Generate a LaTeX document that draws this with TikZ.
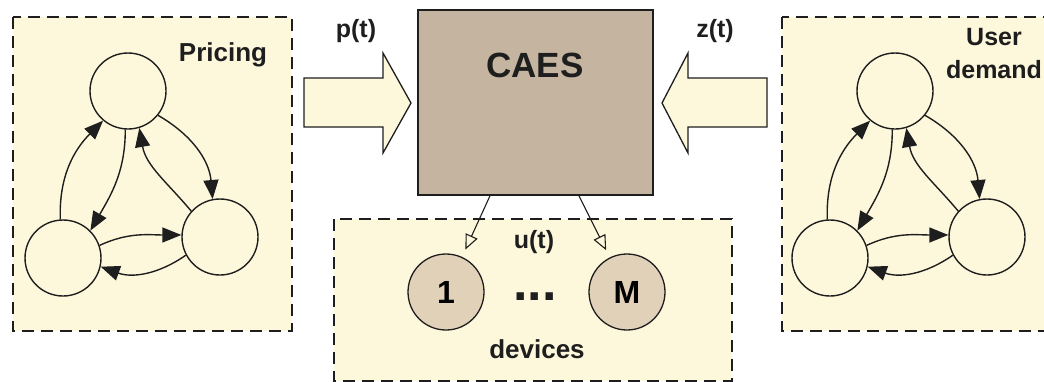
\documentclass[tikz,border=0pt]{standalone}
\usepackage{fontspec}
\setmainfont{Liberation Sans}
\usetikzlibrary{arrows.meta}
\definecolor{boxfill}{HTML}{FDF8DC}
\definecolor{caesfill}{HTML}{C4B4A0}
\definecolor{devfill}{HTML}{E2D1B9}
\definecolor{ink}{HTML}{1E1E1E}
\newcommand\stategraph[2]{%
  \begin{scope}[xshift=#2pt]
    \node[state] (#1t) at (128,-91) {};
    \node[state] (#1l) at (63,-258) {};
    \node[state] (#1r) at (220,-237) {};
    \draw[edge] (#1l.94) to[out=92,in=225] (#1t.230);
    \draw[edge] (#1t.266) to[out=270,in=60] (#1l.45);
    \draw[edge] (#1t.321) to[out=-30,in=95] (#1r.101);
    \draw[edge] (#1r.138) to[out=130,in=280] (#1t.287);
    \draw[edge] (#1l.19) to[out=25,in=180] (#1r.177);
    \draw[edge] (#1r.208) to[out=215,in=-20] (#1l.347);
  \end{scope}}
\begin{document}
\begin{tikzpicture}[x=1pt,y=1pt,
  dbox/.style={draw=ink,fill=boxfill,line width=1.7pt,dash pattern=on 12pt off 7pt},
  state/.style={circle,draw=ink,line width=1.4pt,minimum size=76pt,inner sep=0pt},
  edge/.style={draw=ink,line width=1.4pt,-{Triangle[length=19pt,width=15pt]}},
  bigarrow/.style={draw=ink,fill=boxfill,line width=1.3pt,line join=miter},
  dev/.style={circle,draw=ink,fill=devfill,line width=1.3pt,minimum size=76pt,inner sep=0pt,font=\fontsize{32}{34}\selectfont\bfseries},
  outarrow/.style={draw=ink,line width=1.1pt,shorten >=8pt,-{Triangle[open,length=15pt,width=13pt]}},
  lbl/.style={anchor=base,inner sep=0pt,text=ink}]
\useasboundingbox (0,0) rectangle (1044,-381);
% regions
\draw[dbox] (13,-17) rectangle (292,-331);
\draw[dbox] (782,-17) rectangle (1070,-331);
\draw[dbox] (334,-219) rectangle (732,-381);
% state graphs
\stategraph{p}{0}
\stategraph{z}{767}
\node[lbl,font=\fontsize{26}{28}\selectfont\bfseries] (pricing) at (223,-61) {Pricing};
\node[anchor=base,inner sep=0pt,text=ink,align=center,font=\fontsize{25}{33}\selectfont\bfseries] (demand) at (994,-78) {User\\demand};
% CAES
\node[draw=ink,fill=caesfill,line width=1.5pt,minimum width=235pt,minimum height=185pt,inner sep=0pt] (caes) at (535.5,-102.5) {};
\node[lbl,font=\fontsize{35}{38}\selectfont\bfseries] (caeslbl) at (535,-77) {CAES};
% input arrows
\draw[bigarrow] (304,-78) -- (383,-78) -- (383,-53) -- (411,-103) -- (383,-153) -- (383,-127) -- (304,-127) -- cycle;
\draw[bigarrow] (767,-78) -- (688,-78) -- (688,-53) -- (662,-103) -- (688,-153) -- (688,-127) -- (767,-127) -- cycle;
\node[lbl,font=\fontsize{25}{27}\selectfont\bfseries] (pt) at (356,-37) {p(t)};
\node[lbl,font=\fontsize{25}{27}\selectfont\bfseries] (zt) at (715,-37) {z(t)};
% devices
\node[dev] (d1) at (446,-292) {1};
\node[dev] (dM) at (627,-292) {M};
\node[lbl,font=\fontsize{52}{54}\selectfont\bfseries] (dots) at (535,-300) {...};
\node[lbl,font=\fontsize{25}{27}\selectfont\bfseries] (ut) at (534,-248) {u(t)};
\node[lbl,font=\fontsize{26}{28}\selectfont\bfseries] (devices) at (537,-358) {devices};
\draw[outarrow] (caes.244.8) -- (d1);
\draw[outarrow] (caes.295.7) -- (dM);
\end{tikzpicture}
\end{document}
